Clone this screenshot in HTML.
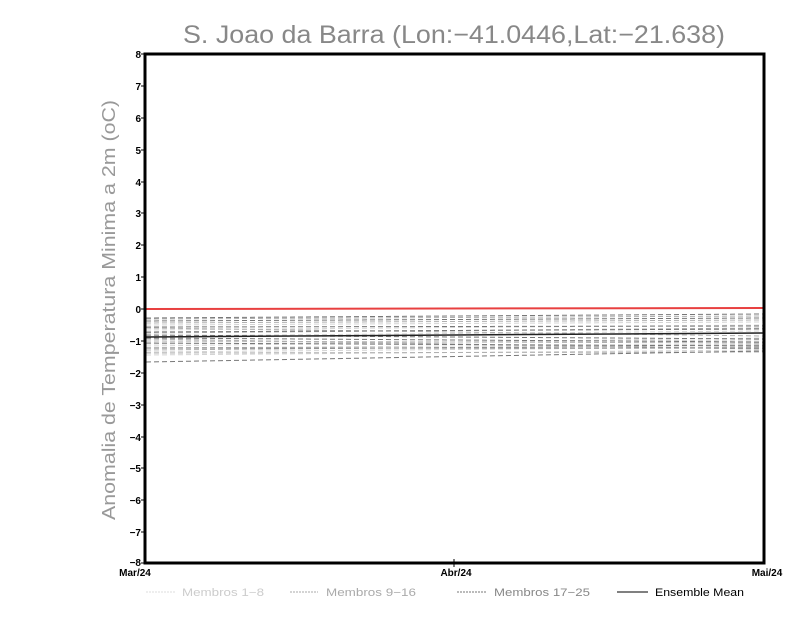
<!DOCTYPE html>
<html><head><meta charset="utf-8"><style>
html,body{margin:0;padding:0;background:#fff;}
svg{display:block}
text{font-family:"Liberation Sans",sans-serif;}
</style></head><body>
<svg width="800" height="618" viewBox="0 0 800 618" xmlns="http://www.w3.org/2000/svg">
<text x="183" y="43" font-size="25" fill="#888" textLength="542" lengthAdjust="spacingAndGlyphs">S. Joao da Barra (Lon:−41.0446,Lat:−21.638)</text>
<text transform="translate(115,310) rotate(-90)" font-size="18" fill="#999" text-anchor="middle" textLength="420" lengthAdjust="spacingAndGlyphs">Anomalia de Temperatura Minima a 2m (oC)</text>
<g id="members" stroke-width="1" stroke-dasharray="5,3" fill="none">
<g stroke="#d4d4d4">
<line x1="146" y1="330" x2="763" y2="325"/>
<line x1="146" y1="336" x2="763" y2="331"/>
<line x1="146" y1="344" x2="763" y2="340"/>
<line x1="146" y1="348" x2="763" y2="344"/>
<line x1="146" y1="352" x2="763" y2="347"/>
<line x1="146" y1="355" x2="763" y2="350"/>
<line x1="146" y1="346" x2="763" y2="338"/>
<line x1="146" y1="325" x2="763" y2="322"/>
</g>
<g stroke="#b0b0b0">
<line x1="146" y1="319" x2="763" y2="316"/>
<line x1="146" y1="323" x2="763" y2="320"/>
<line x1="146" y1="333" x2="763" y2="328"/>
<line x1="146" y1="341" x2="763" y2="343"/>
<line x1="146" y1="350" x2="763" y2="345"/>
<line x1="146" y1="339" x2="763" y2="349"/>
<line x1="146" y1="328" x2="763" y2="336"/>
<line x1="146" y1="353" x2="763" y2="352"/>
</g>
<g stroke="#777">
<line x1="146" y1="318" x2="763" y2="314"/>
<line x1="146" y1="321" x2="763" y2="318"/>
<line x1="146" y1="327" x2="763" y2="326"/>
<line x1="146" y1="332" x2="763" y2="329"/>
<line x1="146" y1="338" x2="763" y2="342"/>
<line x1="146" y1="343" x2="763" y2="346"/>
<line x1="146" y1="335" x2="763" y2="339"/>
<line x1="146" y1="362" x2="763" y2="351"/>
<line x1="146" y1="348" x2="763" y2="348"/>
</g>
</g>
<line x1="146" y1="337" x2="763" y2="333" stroke="#222" stroke-width="1.5"/>
<line x1="146" y1="309" x2="763" y2="308" stroke="#e84040" stroke-width="2"/>
<rect x="145" y="54" width="619" height="509" fill="none" stroke="#000" stroke-width="3"/>
<g font-size="10" font-weight="bold" fill="#000" text-anchor="end">
<text x="141" y="58">8</text><text x="141" y="90">7</text><text x="141" y="122">6</text><text x="141" y="154">5</text>
<text x="141" y="186">4</text><text x="141" y="217">3</text><text x="141" y="249">2</text><text x="141" y="281">1</text>
<text x="141" y="313">0</text><text x="141" y="345">−1</text><text x="141" y="377">−2</text><text x="141" y="409">−3</text>
<text x="141" y="441">−4</text><text x="141" y="472">−5</text><text x="141" y="504">−6</text><text x="141" y="536">−7</text>
<text x="141" y="566">−8</text>
</g>
<g stroke="#000" stroke-width="1">
<path d="M141 54h4M141 86h4M141 118h4M141 150h4M141 182h4M141 213h4M141 245h4M141 277h4M141 309h4M141 341h4M141 373h4M141 405h4M141 437h4M141 468h4M141 500h4M141 532h4M141 563h4"/>
<path d="M454 559v8"/>
</g>
<g font-size="10" font-weight="bold" fill="#000" text-anchor="middle">
<text x="135" y="576">Mar/24</text><text x="456" y="576">Abr/24</text><text x="767" y="576">Mai/24</text>
</g>
<g font-size="11">
<line x1="146" y1="592" x2="176" y2="592" stroke="#ddd" stroke-dasharray="2,1"/>
<text x="182" y="596" fill="#ccc" textLength="82" lengthAdjust="spacingAndGlyphs">Membros 1−8</text>
<line x1="290" y1="592" x2="318" y2="592" stroke="#aaa" stroke-dasharray="2,1"/>
<text x="326" y="596" fill="#aaa" textLength="90" lengthAdjust="spacingAndGlyphs">Membros 9−16</text>
<line x1="457" y1="592" x2="487" y2="592" stroke="#777" stroke-dasharray="2,1"/>
<text x="494" y="596" fill="#888" textLength="96" lengthAdjust="spacingAndGlyphs">Membros 17−25</text>
<line x1="617" y1="592" x2="648" y2="592" stroke="#000" stroke-width="1"/>
<text x="655" y="596" fill="#000" textLength="89" lengthAdjust="spacingAndGlyphs">Ensemble Mean</text>
</g>
</svg>
</body></html>
